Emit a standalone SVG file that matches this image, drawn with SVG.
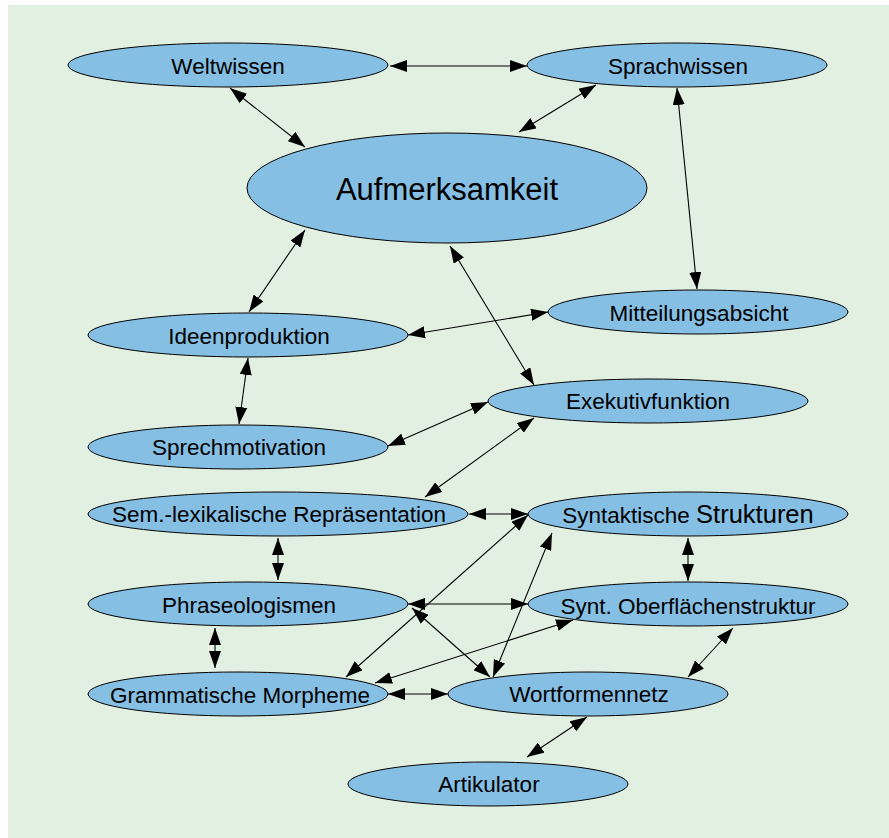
<svg xmlns="http://www.w3.org/2000/svg" width="889" height="838" viewBox="0 0 889 838">
<style>
.n ellipse{fill:#86bfe4;stroke:#000;stroke-width:1}
.n text{font-family:"Liberation Sans",Arial,sans-serif;font-size:22.5px;fill:#000;text-anchor:middle}
#edges line{stroke:#000;stroke-width:1.1;marker-start:url(#ah);marker-end:url(#ah)}
</style>
<defs>
<marker id="ah" viewBox="0 0 17 12" refX="17" refY="6" markerWidth="17" markerHeight="12" markerUnits="userSpaceOnUse" orient="auto-start-reverse">
<path d="M0,0 L17,6 L0,12 z" fill="#000"/>
</marker>
</defs>
<rect x="0" y="0" width="889" height="838" fill="#fff"/>
<rect x="8" y="5" width="881" height="833" fill="#e2f0e2"/>

<g id="n-weltwissen" class="n"><ellipse cx="228" cy="65" rx="160" ry="22"/><text x="228" y="74">Weltwissen</text></g>
<g id="n-sprachwissen" class="n"><ellipse cx="677" cy="65" rx="150" ry="22"/><text x="678" y="74">Sprachwissen</text></g>
<g id="n-aufmerksamkeit" class="n"><ellipse cx="447" cy="188" rx="200" ry="55"/><text x="447" y="200" style="font-size:31px">Aufmerksamkeit</text></g>
<g id="n-mitteilungsabsicht" class="n"><ellipse cx="698" cy="312" rx="150" ry="22"/><text x="699" y="321">Mitteilungsabsicht</text></g>
<g id="n-ideenproduktion" class="n"><ellipse cx="248" cy="335" rx="160" ry="22"/><text x="249" y="344">Ideenproduktion</text></g>
<g id="n-exekutivfunktion" class="n"><ellipse cx="648" cy="401" rx="160" ry="22"/><text x="648" y="409">Exekutivfunktion</text></g>
<g id="n-sprechmotivation" class="n"><ellipse cx="238" cy="447" rx="150" ry="22"/><text x="239" y="455">Sprechmotivation</text></g>
<g id="n-semlex" class="n"><ellipse cx="278" cy="514" rx="190" ry="22"/><text x="279" y="522">Sem.-lexikalische Repräsentation</text></g>
<g id="n-syntaktische" class="n"><ellipse cx="688" cy="514" rx="160" ry="22"/><text x="688" y="523">Syntaktische <tspan style="font-size:25.5px">Strukturen</tspan></text></g>
<g id="n-phraseologismen" class="n"><ellipse cx="248" cy="604" rx="160" ry="22"/><text x="249" y="613">Phraseologismen</text></g>
<g id="n-oberflaeche" class="n"><ellipse cx="688" cy="604" rx="160" ry="22"/><text x="688" y="614">Synt. Oberflächenstruktur</text></g>
<g id="n-grammatische" class="n"><ellipse cx="238" cy="694" rx="150" ry="22"/><text x="240" y="703">Grammatische Morpheme</text></g>
<g id="n-wortformennetz" class="n"><ellipse cx="588" cy="694" rx="140" ry="22"/><text x="589" y="702">Wortformennetz</text></g>
<g id="n-artikulator" class="n"><ellipse cx="488" cy="784" rx="140" ry="22"/><text x="489" y="792">Artikulator</text></g>

<g id="edges">
<line x1="390" y1="66" x2="527" y2="66"/>
<line x1="230" y1="88" x2="305" y2="147"/>
<line x1="596" y1="85" x2="519" y2="132"/>
<line x1="677" y1="88" x2="697" y2="289"/>
<line x1="305" y1="230" x2="249" y2="312"/>
<line x1="450" y1="246" x2="534" y2="385"/>
<line x1="548" y1="312" x2="408" y2="335"/>
<line x1="248" y1="358" x2="239" y2="424"/>
<line x1="488" y1="402" x2="388" y2="446"/>
<line x1="534" y1="418" x2="425" y2="497"/>
<line x1="469" y1="514" x2="528" y2="514"/>
<line x1="278" y1="538" x2="278" y2="580"/>
<line x1="688" y1="538" x2="688" y2="581"/>
<line x1="408" y1="604" x2="528" y2="604"/>
<line x1="215" y1="628" x2="215" y2="668"/>
<line x1="346" y1="677" x2="528" y2="515"/>
<line x1="412" y1="608" x2="490" y2="677"/>
<line x1="493" y1="677" x2="552" y2="533"/>
<line x1="375" y1="683" x2="573" y2="620"/>
<line x1="733" y1="628" x2="688" y2="677"/>
<line x1="388" y1="694" x2="448" y2="694"/>
<line x1="587" y1="717" x2="527" y2="757"/>
</g>
</svg>
